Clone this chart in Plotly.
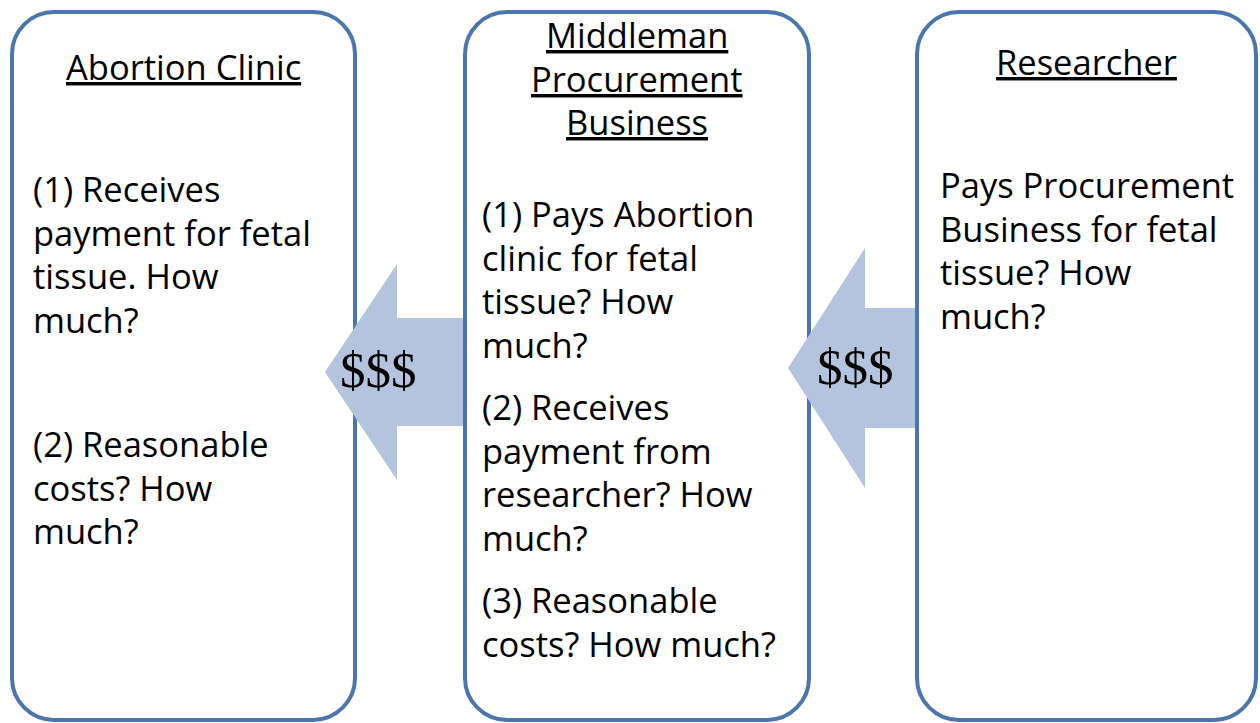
import plotly.graph_objects as go

# ---------------- content ----------------
box_titles = [
    ["Abortion Clinic"],
    ["Middleman", "Procurement", "Business"],
    ["Researcher"],
]
box_paragraphs = [
    [["(1) Receives", "payment for fetal", "tissue. How", "much?"],
     ["(2) Reasonable", "costs? How", "much?"]],
    [["(1) Pays Abortion", "clinic for fetal", "tissue? How", "much?"],
     ["(2) Receives", "payment from", "researcher? How", "much?"],
     ["(3) Reasonable", "costs? How much?"]],
    [["Pays Procurement", "Business for fetal", "tissue? How", "much?"]],
]
flow_label = "$$$"

# ---------------- geometry / style (pixels) ----------------
W, H = 1260, 723
box_x = [(12, 355), (465, 809), (917, 1256)]
box_top, box_bottom, radius = 12, 720, 42
title_baselines = [[80], [48, 92, 135], [75]]
para_baselines = [[202, 457], [227, 420, 613], [198]]
text_left = [31, 480, 938]
line_gap = 43.5
fs = 34.5
font_family = "Open Sans"
edge_color = "#4a76ad"
arrow_color = "#b4c4de"
# arrows: (tip_x, tip_y, head_back_x, head_half, shaft_end_x, shaft_half)
arrows = [(325, 372, 397, 108, 463, 54), (788, 368, 865, 120, 915, 60)]
label_pos = [(378, 370), (855, 367)]


def rounded_rect(x0, y0, x1, y1, r):
    k = 0.5523 * r
    return (f"M {x0+r},{y0} L {x1-r},{y0} "
            f"C {x1-r+k},{y0} {x1},{y0+r-k} {x1},{y0+r} "
            f"L {x1},{y1-r} "
            f"C {x1},{y1-r+k} {x1-r+k},{y1} {x1-r},{y1} "
            f"L {x0+r},{y1} "
            f"C {x0+r-k},{y1} {x0},{y1-r+k} {x0},{y1-r} "
            f"L {x0},{y0+r} "
            f"C {x0},{y0+r-k} {x0+r-k},{y0} {x0+r},{y0} Z")


def arrow_path(tx, ty, hx, hh, sx, sh):
    return (f"M {tx},{ty} L {hx},{ty-hh} L {hx},{ty-sh} L {sx},{ty-sh} "
            f"L {sx},{ty+sh} L {hx},{ty+sh} L {hx},{ty+hh} Z")


fig = go.Figure()
fig.add_trace(go.Scatter(x=[0, W], y=[0, H], mode="markers",
                         marker=dict(opacity=0), hoverinfo="skip",
                         showlegend=False))

shapes = []
for (x0, x1) in box_x:
    shapes.append(dict(type="path", path=rounded_rect(x0, box_top, x1, box_bottom, radius),
                       line=dict(color=edge_color, width=4), fillcolor="white",
                       layer="below"))
for a in arrows:
    shapes.append(dict(type="path", path=arrow_path(*a), line=dict(width=0),
                       fillcolor=arrow_color, layer="above"))

annotations = []
off = 0.39 * fs
for i, (x0, x1) in enumerate(box_x):
    cx = (x0 + x1) / 2
    for line, base in zip(box_titles[i], title_baselines[i]):
        annotations.append(dict(
            x=cx, y=base - off, xref="x", yref="y", showarrow=False,
            xanchor="center", yanchor="middle",
            text=f'<span style="text-decoration:underline">{line}</span>',
            font=dict(family=font_family, size=fs, color="black")))
    for para, base in zip(box_paragraphs[i], para_baselines[i]):
        for j, line in enumerate(para):
            annotations.append(dict(
                x=text_left[i], y=base + j * line_gap - off, xref="x", yref="y",
                showarrow=False, xanchor="left", yanchor="middle", text=line,
                font=dict(family=font_family, size=fs, color="black")))

for (lx, ly) in label_pos:
    annotations.append(dict(x=lx, y=ly, xref="x", yref="y", showarrow=False,
                            xanchor="center", yanchor="middle", text=flow_label,
                            font=dict(family="Liberation Serif", size=51, color="black")))

fig.update_layout(
    width=W, height=H, margin=dict(l=0, r=0, t=0, b=0),
    paper_bgcolor="white", plot_bgcolor="white",
    xaxis=dict(range=[0, W], visible=False, fixedrange=True),
    yaxis=dict(range=[H, 0], visible=False, fixedrange=True),
    shapes=shapes, annotations=annotations, showlegend=False,
)

fig.write_html("out.html", config={"displayModeBar": False, "staticPlot": True},
               post_script="document.body.style.margin='0';document.body.style.overflow='hidden';")
